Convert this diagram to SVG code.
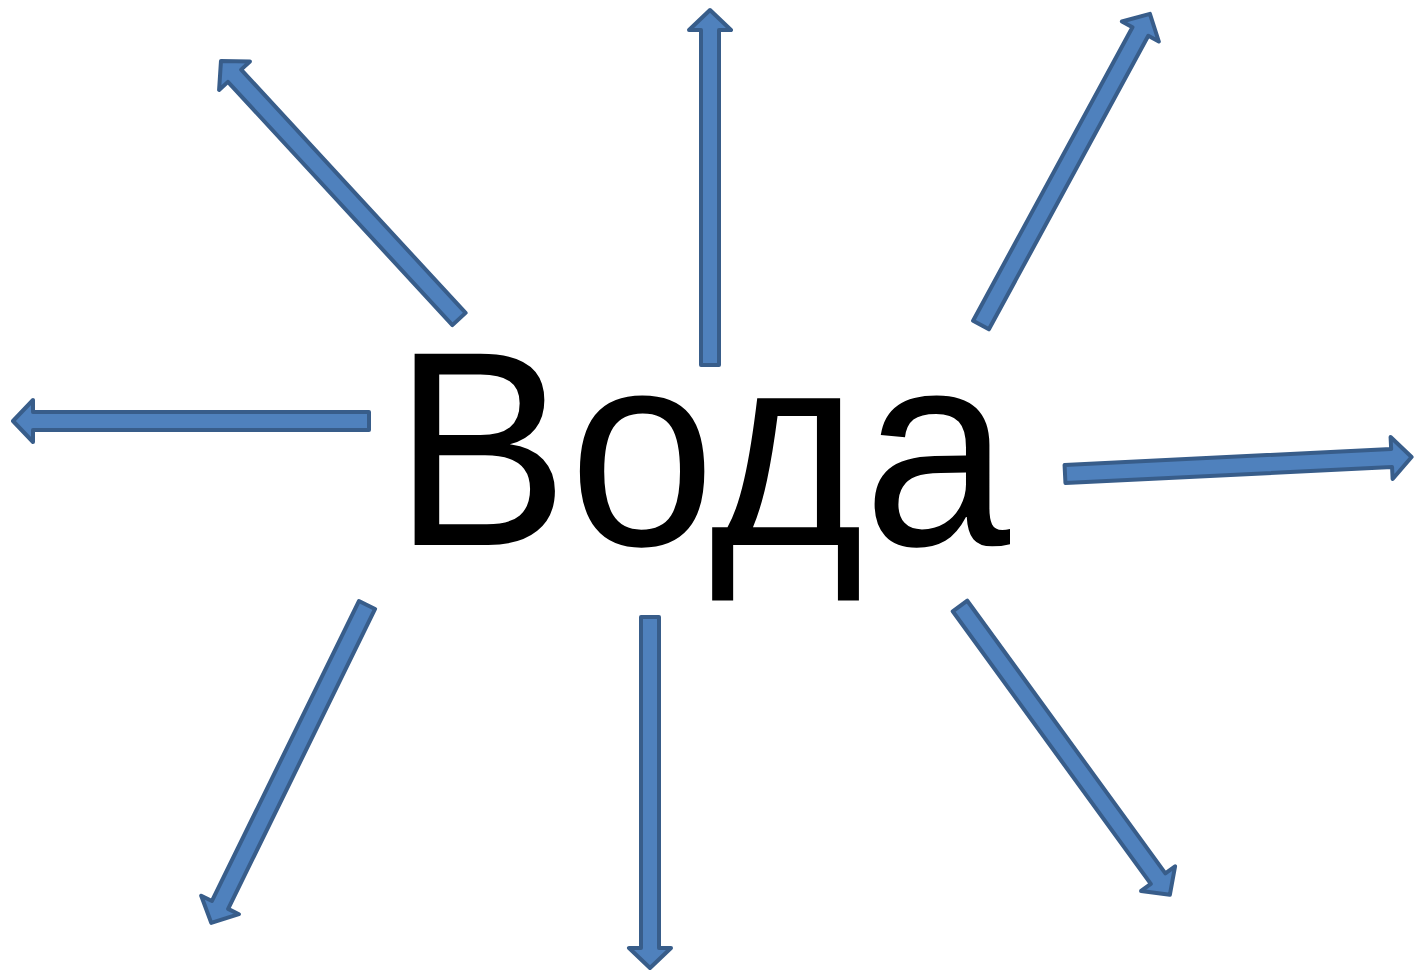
<svg xmlns="http://www.w3.org/2000/svg" width="1414" height="971" viewBox="0 0 1414 971">
<style>
.arr{fill:#4F81BD;stroke:#385D8A;stroke-width:4;stroke-linejoin:round}
.lbl{font-family:"Liberation Sans",Arial,sans-serif;font-size:278px;fill:#000}
</style>
<rect width="1414" height="971" fill="#fff"/>
<g id="connectors">
<path class="arr" transform="translate(710,365) rotate(-90)" d="M0,-9 L335,-9 L335,-21 L355,0 L335,21 L335,9 L0,9 Z"/>
<path class="arr" transform="translate(459,319) rotate(-132.7)" d="M0,-9 L331,-9 L331,-21 L351,0 L331,21 L331,9 L0,9 Z"/>
<path class="arr" transform="translate(981,325) rotate(-61.5)" d="M0,-9 L334,-9 L334,-21 L354,0 L334,21 L334,9 L0,9 Z"/>
<path class="arr" transform="translate(369,421) rotate(180)" d="M0,-9 L336,-9 L336,-21 L356,0 L336,21 L336,9 L0,9 Z"/>
<path class="arr" transform="translate(1065,474) rotate(-2.8)" d="M0,-9 L327,-9 L327,-21 L347,0 L327,21 L327,9 L0,9 Z"/>
<path class="arr" transform="translate(367,605) rotate(116.1)" d="M0,-9 L334,-9 L334,-21 L354,0 L334,21 L334,9 L0,9 Z"/>
<path class="arr" transform="translate(650,617) rotate(90)" d="M0,-9 L331,-9 L331,-21 L351,0 L331,21 L331,9 L0,9 Z"/>
<path class="arr" transform="translate(960,606) rotate(54)" d="M0,-9 L337,-9 L337,-21 L357,0 L337,21 L337,9 L0,9 Z"/>
</g>
<g id="node-voda">
<text class="lbl" x="393" y="545" textLength="617" lengthAdjust="spacingAndGlyphs">Вода</text>
</g>
</svg>
